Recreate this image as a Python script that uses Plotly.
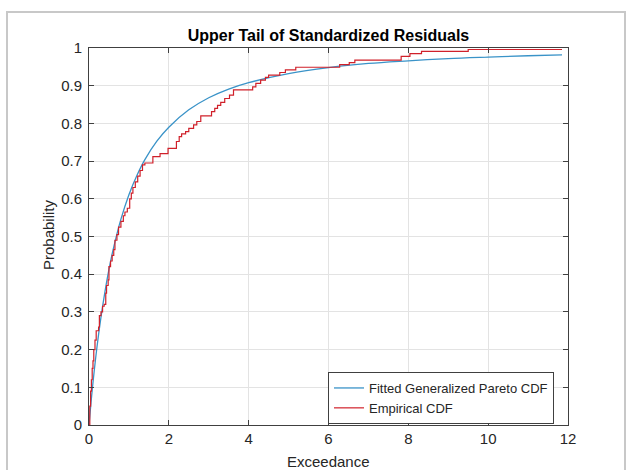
import plotly.graph_objects as go

# Fitted generalized Pareto CDF
gp_x = [0, 0.05, 0.1, 0.2, 0.3, 0.4, 0.5, 0.6, 0.8, 1.0, 1.2, 1.4, 1.7, 2.0,
        2.5, 3.0, 3.5, 4.0, 5.0, 6.0, 7.0, 8.0, 9.0, 10.0, 11.0, 11.85]
gp_y = [0, 0.059, 0.113, 0.207, 0.286, 0.354, 0.413, 0.463, 0.546, 0.611, 0.662,
        0.704, 0.753, 0.790, 0.836, 0.868, 0.891, 0.908, 0.932, 0.948, 0.959,
        0.966, 0.972, 0.976, 0.9795, 0.9818]

# Empirical CDF step positions and levels
emp_x = [0, 0.02, 0.04, 0.06, 0.08, 0.10, 0.12, 0.15, 0.18, 0.24, 0.26, 0.30, 0.34,
         0.38, 0.42, 0.44, 0.48, 0.50, 0.54, 0.58, 0.62, 0.65, 0.70, 0.74, 0.80,
         0.86, 0.90, 0.96, 1.02, 1.06, 1.10, 1.16, 1.22, 1.28, 1.34, 1.40, 1.60,
         1.78, 1.98, 2.19, 2.26, 2.32, 2.42, 2.50, 2.62, 2.70, 2.80, 3.07, 3.15,
         3.22, 3.30, 3.40, 3.52, 3.62, 4.10, 4.18, 4.30, 4.42, 4.50, 4.78, 4.92,
         5.18, 6.28, 6.52, 6.66, 7.82, 8.04, 8.33, 9.50, 11.85]
emp_y = [0, 0.05, 0.09, 0.12, 0.15, 0.17, 0.20, 0.225, 0.25, 0.26, 0.29, 0.30, 0.315,
         0.32, 0.35, 0.37, 0.385, 0.42, 0.435, 0.45, 0.465, 0.49, 0.505, 0.525, 0.54,
         0.555, 0.565, 0.575, 0.60, 0.615, 0.63, 0.645, 0.66, 0.675, 0.69, 0.695, 0.712,
         0.72, 0.734, 0.752, 0.765, 0.772, 0.778, 0.787, 0.796, 0.805, 0.82, 0.831, 0.84,
         0.848, 0.856, 0.866, 0.875, 0.889, 0.897, 0.906, 0.915, 0.922, 0.928, 0.935,
         0.942, 0.949, 0.956, 0.961, 0.968, 0.978, 0.985, 0.991, 0.996, 0.996]

x_ticks = [0, 2, 4, 6, 8, 10, 12]
y_ticks = [0, 0.1, 0.2, 0.3, 0.4, 0.5, 0.6, 0.7, 0.8, 0.9, 1]
y_tick_text = ["0", "0.1", "0.2", "0.3", "0.4", "0.5", "0.6", "0.7", "0.8", "0.9", "1"]

W, H = 628, 470
L, R, T, B = 89, 60, 48, 45
pw, ph = W - L - R, H - T - B

def px(xp):
    return (xp - L) / pw

def py(yp):
    return (H - B - yp) / ph

FONT = "Liberation Sans, Arial"

fig = go.Figure()
fig.add_trace(go.Scatter(x=gp_x, y=gp_y, mode="lines", line_shape="spline",
                         name="Fitted Generalized Pareto CDF",
                         line=dict(color="#3a93c8", width=1.3)))
fig.add_trace(go.Scatter(x=emp_x, y=emp_y, mode="lines", line_shape="hv",
                         name="Empirical CDF",
                         line=dict(color="#d0202a", width=1.2)))

axis_common = dict(showline=True, linecolor="#404040", linewidth=1, mirror="ticks",
                   ticks="inside", ticklen=5, tickcolor="#404040",
                   showgrid=True, gridcolor="#e3e3e3", gridwidth=1, zeroline=False,
                   tickfont=dict(family=FONT, size=15, color="#262626"))

fig.update_xaxes(range=[0, 12], tickvals=x_ticks, **axis_common)
fig.update_yaxes(range=[0, 1], tickvals=y_ticks, ticktext=y_tick_text,
                 ticklabelstandoff=3, **axis_common)

fig.update_layout(
    width=W, height=H,
    margin=dict(l=L, r=R, t=T, b=B),
    paper_bgcolor="white", plot_bgcolor="white",
    showlegend=True,
    legend=dict(x=px(554), xanchor="right", y=py(372), yanchor="top",
                bordercolor="#404040", borderwidth=1, bgcolor="white",
                font=dict(family=FONT, size=13, color="#262626"),
                tracegroupgap=0),
    title=dict(text="<b>Upper Tail of Standardized Residuals</b>",
               x=0.5, xref="paper", y=1 - 35 / H, yref="container", yanchor="middle",
               xanchor="center",
               font=dict(family=FONT, size=16, color="#000000")),
    annotations=[
        dict(text="Probability", x=px(48), y=py(235), xref="paper", yref="paper",
             textangle=-90, showarrow=False, xanchor="center", yanchor="middle",
             font=dict(family=FONT, size=15, color="#262626")),
        dict(text="Exceedance", x=0.5, y=py(461), xref="paper", yref="paper",
             showarrow=False, xanchor="center", yanchor="middle",
             font=dict(family=FONT, size=15, color="#262626")),
    ],
    shapes=[
        dict(type="rect", xref="paper", yref="paper",
             x0=px(7), x1=px(625), y0=py(478), y1=py(12),
             line=dict(color="#c8c8c8", width=2), fillcolor="rgba(0,0,0,0)", layer="below"),
    ],
)

fig.write_html("out.html")
